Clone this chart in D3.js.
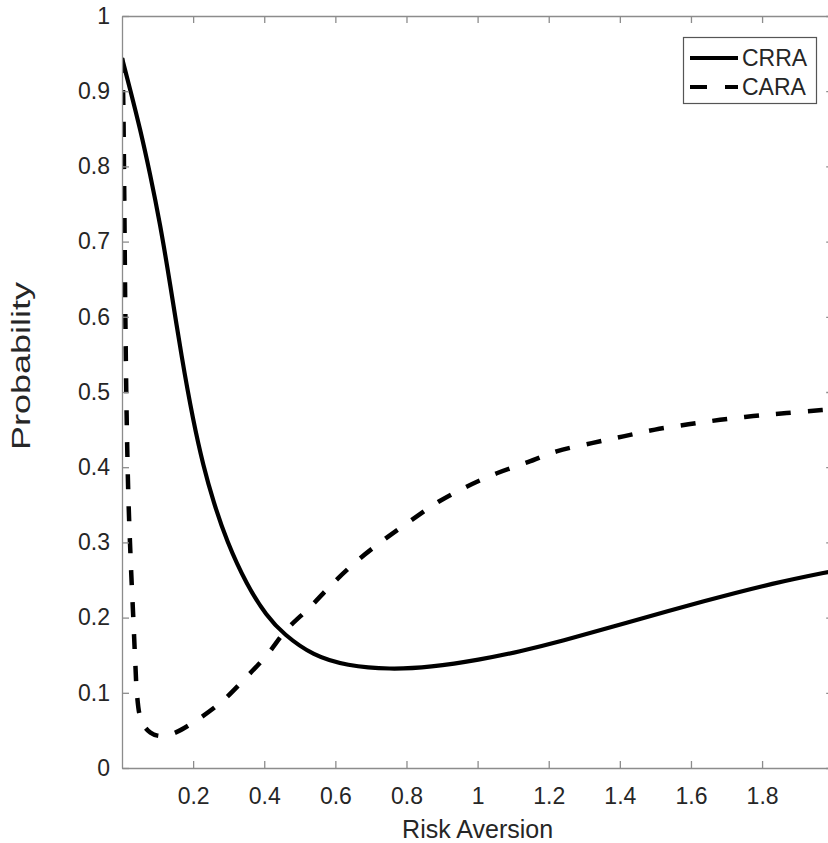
<!DOCTYPE html>
<html>
<head>
<meta charset="utf-8">
<script src="https://cdn.jsdelivr.net/npm/d3@7"></script>
<style>
  html, body { margin: 0; padding: 0; background: #fff; }
  svg { display: block; }
  text { font-family: "Liberation Sans", Arial, sans-serif; }
</style>
</head>
<body>
<div id="chart"></div>
<script>
// ---- data ----
const xTicks = [0.2, 0.4, 0.6, 0.8, 1, 1.2, 1.4, 1.6, 1.8, 2];
const xTickLabels = ["0.2", "0.4", "0.6", "0.8", "1", "1.2", "1.4", "1.6", "1.8", ""];
const yTicks = [0, 0.1, 0.2, 0.3, 0.4, 0.5, 0.6, 0.7, 0.8, 0.9, 1];
const yTickLabels = ["0", "0.1", "0.2", "0.3", "0.4", "0.5", "0.6", "0.7", "0.8", "0.9", "1"];
const seriesNames = ["CRRA", "CARA"];

const crraX = [0, 0.022, 0.051, 0.079, 0.107, 0.135, 0.168, 0.200, 0.229, 0.257, 0.294, 0.351, 0.407, 0.454, 0.538, 0.632, 0.754, 0.866, 1.007, 1.119, 1.232, 1.410, 1.644, 1.832, 2.0];
const crraY = [0.944, 0.904, 0.850, 0.790, 0.724, 0.645, 0.545, 0.462, 0.401, 0.354, 0.302, 0.243, 0.202, 0.178, 0.149, 0.136, 0.131, 0.134, 0.144, 0.155, 0.168, 0.192, 0.223, 0.246, 0.262];

const caraX = [0, 0.003, 0.006, 0.009, 0.013, 0.018, 0.025, 0.032, 0.037, 0.042, 0.05, 0.062, 0.08, 0.1, 0.121, 0.15, 0.205, 0.28, 0.346, 0.407, 0.463, 0.529, 0.594, 0.665, 0.735, 0.815, 0.890, 0.969, 1.054, 1.143, 1.222, 1.321, 1.410, 1.499, 1.593, 1.682, 1.775, 1.869, 1.968, 2.0];
const caraY = [0.944, 0.90, 0.78, 0.62, 0.47, 0.36, 0.27, 0.197, 0.144, 0.099, 0.070, 0.056, 0.047, 0.043, 0.043, 0.047, 0.062, 0.088, 0.119, 0.150, 0.184, 0.214, 0.246, 0.277, 0.303, 0.330, 0.354, 0.374, 0.392, 0.407, 0.421, 0.432, 0.441, 0.450, 0.457, 0.463, 0.468, 0.472, 0.476, 0.477];

// ---- layout ----
const W = 828, H = 843;
const svg = d3.select("#chart").append("svg").attr("width", W).attr("height", H);

const x = d3.scaleLinear().domain([0, 2]).range([122, 833.2]);
const y = d3.scaleLinear().domain([0, 1]).range([768, 16]);

const axisColor = "#8c8c8c";
const textColor = "#262626";

// clip
svg.append("defs").append("clipPath").attr("id", "plot")
  .append("rect").attr("x", x(0)).attr("y", y(1)).attr("width", x(2) - x(0)).attr("height", y(0) - y(1));

// lines
const crra = crraX.map((v, i) => [v, crraY[i]]);
const cara = caraX.map((v, i) => [v, caraY[i]]);
const lineSmooth = d3.line().x(d => x(d[0])).y(d => y(d[1])).curve(d3.curveBasis);
const lineCR = d3.line().x(d => x(d[0])).y(d => y(d[1])).curve(d3.curveCatmullRom.alpha(0.5));

const g = svg.append("g").attr("clip-path", "url(#plot)");
g.append("path").datum(cara).attr("d", lineCR)
  .attr("fill", "none").attr("stroke", "#000").attr("stroke-width", 4.5)
  .attr("stroke-dasharray", "15,17");
g.append("path").datum(crra).attr("d", lineSmooth)
  .attr("fill", "none").attr("stroke", "#000").attr("stroke-width", 4.2)
  .attr("stroke-linejoin", "round");

// axes
const xFmt = d => xTickLabels[xTicks.indexOf(d)];
const yFmt = d => yTickLabels[yTicks.indexOf(d)];
const xAxis = svg.append("g").attr("transform", `translate(0,${y(0)})`)
  .call(d3.axisBottom(x).tickValues(xTicks).tickFormat(xFmt).tickSizeInner(-7).tickSizeOuter(0).tickPadding(20));
const xTop = svg.append("g").attr("transform", `translate(0,${y(1)})`)
  .call(d3.axisTop(x).tickValues(xTicks).tickFormat("").tickSizeInner(-7).tickSizeOuter(0));
const yAxis = svg.append("g").attr("transform", `translate(${x(0)},0)`)
  .call(d3.axisLeft(y).tickValues(yTicks).tickFormat(yFmt).tickSizeInner(-7).tickSizeOuter(0).tickPadding(12));
const yRight = svg.append("g").attr("transform", `translate(${x(2)},0)`)
  .call(d3.axisRight(y).tickValues(yTicks).tickFormat("").tickSizeInner(-7).tickSizeOuter(0));

[xAxis, xTop, yAxis, yRight].forEach(a => {
  a.select(".domain").attr("stroke", axisColor).attr("stroke-width", 1.3);
  a.selectAll(".tick line").attr("stroke", axisColor).attr("stroke-width", 1.3);
  a.selectAll(".tick text").attr("fill", textColor).style("font-size", "23px")
    .style("font-family", '"Liberation Sans", Arial, sans-serif');
});
xAxis.selectAll(".tick text").attr("dy", "0.71em");

// axis titles
svg.append("text").attr("x", x(1)).attr("y", 838)
  .attr("text-anchor", "middle").attr("fill", textColor).style("font-size", "25px")
  .text("Risk Aversion");
svg.append("text").attr("transform", "translate(30,366) rotate(-90)")
  .attr("text-anchor", "middle").attr("fill", textColor).style("font-size", "25px")
  .attr("textLength", 168).attr("lengthAdjust", "spacingAndGlyphs")
  .text("Probability");

// legend
const lg = svg.append("g");
lg.append("rect").attr("x", 683.5).attr("y", 37.5).attr("width", 133).attr("height", 66)
  .attr("fill", "#fff").attr("stroke", "#555").attr("stroke-width", 1.2);
const rows = [{ name: seriesNames[0], dash: null, yy: 58 }, { name: seriesNames[1], dash: "17,18", yy: 87 }];
rows.forEach(r => {
  lg.append("line").attr("x1", 690).attr("x2", 738).attr("y1", r.yy).attr("y2", r.yy)
    .attr("stroke", "#000").attr("stroke-width", 4.2)
    .attr("stroke-dasharray", r.dash);
  lg.append("text").attr("x", 742).attr("y", r.yy).attr("dy", "0.36em")
    .attr("fill", textColor).style("font-size", "23px").text(r.name);
});
</script>
</body>
</html>
